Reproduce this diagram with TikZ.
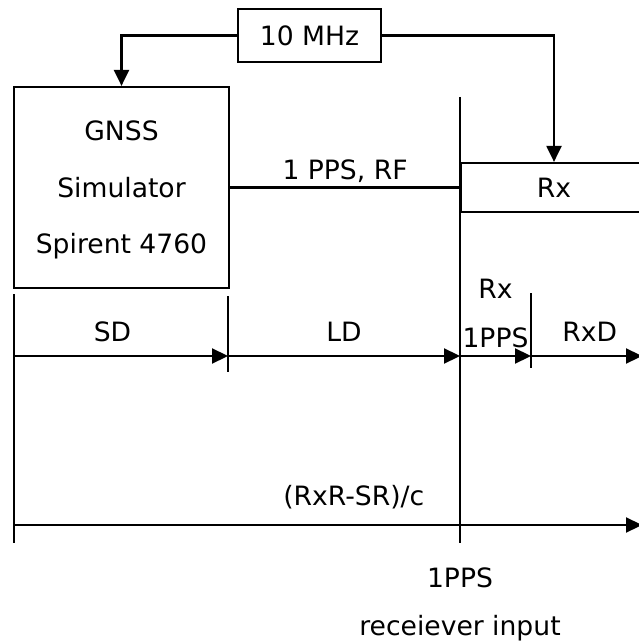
\documentclass[tikz,border=0pt]{standalone}
\usepackage{fontspec}
\setmainfont{DejaVu Sans}
\usetikzlibrary{arrows.meta, positioning}

\begin{document}
\begin{tikzpicture}[
        x=0.5pt, y=-0.5pt,
        font=\fontsize{13.3}{15}\selectfont,
        block/.style={rectangle, draw=black, line width=1.1pt, align=center, inner sep=0pt},
        wire/.style={line width=1.1pt, color=black},
        arrow/.style={-{Triangle[length=8pt, width=7.5pt]}, line width=1.1pt, color=black},
        tag/.style={inner sep=0pt, align=center}
    ]
        \useasboundingbox (0,0) rectangle (638,641);
        \node[block, minimum width=71.5pt, minimum height=26.5pt] (ref) at (309.5,35.5) {10 MHz};
        \node[block, minimum width=107.5pt, minimum height=100.5pt, text depth=0pt, font=\fontsize{13.3}{28.25}\selectfont] (sim) at (121.5,187.5) {GNSS\\Simulator\\Spirent 4760};
        \node[block, minimum width=93pt, minimum height=24.5pt] (rx) at (554,187.5) {Rx};
        \coordinate (in top) at (460,97);
        \coordinate (in bot) at (460,543);
        \coordinate (sd top) at (14,294);
        \coordinate (sd bot) at (14,543);
        \coordinate (ld top) at (228,296);
        \coordinate (ld bot) at (228,372);
        \coordinate (rxd top) at (531,293);
        \coordinate (rxd bot) at (531,368);
        \coordinate (end d) at (642,356);
        \coordinate (end c) at (642,525);
        \draw[arrow] (ref.west) -| (sim.north);
        \draw[arrow] (ref.east) -| (rx.north);
        \draw[wire] (sim.east) -- node[tag, above=1.8pt] {1 PPS, RF} (sim.east -| in top);
        \draw[wire] (in top) -- (in bot);
        \draw[wire] (sd top) -- (sd bot);
        \draw[wire] (ld top) -- (ld bot);
        \draw[wire] (rxd top) -- (rxd bot);
        \draw[arrow] (sd top |- end d) -- node[tag, above=6.6pt, pos=0.46] {SD} (ld top |- end d);
        \draw[arrow] (ld top |- end d) -- node[tag, above=6.6pt] {LD} (in top |- end d);
        \draw[arrow] (in top |- end d) -- node[tag, above=3.4pt, font=\fontsize{13.3}{24.5}\selectfont] {Rx\\1PPS} (rxd top |- end d);
        \draw[arrow] (rxd top |- end d) -- node[tag, above=6.6pt, pos=0.53] {RxD} (end d);
        \draw[arrow] (sd top |- end c) -- node[tag, above=7.5pt, pos=0.541] {(RxR-SR)/c} (end c);
        \node[tag, below=12.4pt of in bot, font=\fontsize{13.3}{24}\selectfont] (pps) {1PPS\\receiever input};
    \end{tikzpicture}
\end{document}
